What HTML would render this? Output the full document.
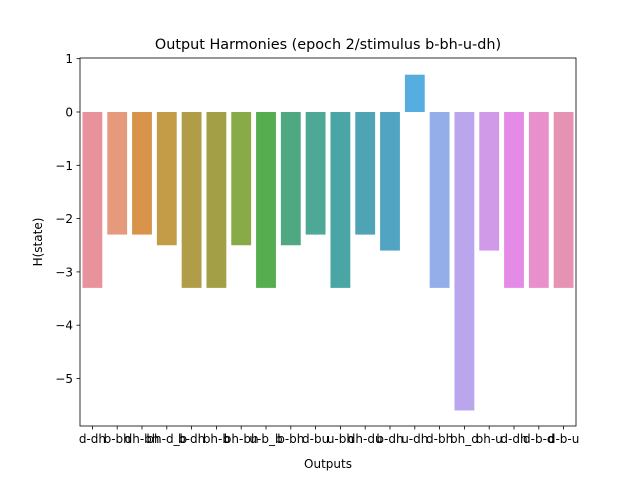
<!DOCTYPE html>
<html><head><meta charset="utf-8"><style>
body{margin:0;background:#fff;}
svg text{font-family:"DejaVu Sans","Liberation Sans",sans-serif;}
</style></head><body>
<svg id="chart" width="640" height="480" viewBox="0 0 640 480">
<rect width="640" height="480" fill="#fff"/>
<text x="328" y="49" text-anchor="middle" font-size="14.4">Output Harmonies (epoch 2/stimulus b-bh-u-dh)</text>
<g id="bars"></g>
<g id="yaxis"></g>
<g id="xaxis"></g>
<rect x="80" y="58" width="496" height="368" fill="none" stroke="#000" stroke-width="0.8"/>
<text x="328" y="468" text-anchor="middle" font-size="12">Outputs</text>
<text x="42" y="242" text-anchor="middle" font-size="12" transform="rotate(-90 42 242)">H(state)</text>
</svg>
<script>
const categories=["d-dh","b-bh","dh-bh","bh-d_b","b-dh","bh-b","bh-bh","u-b_b","b-bh","d-bu","u-bh","dh-du","b-dh","u-dh","d-bh","bh_d","bh-u","d-dh","d-b-d","d-b-u"];
const values=[-3.3,-2.3,-2.3,-2.5,-3.3,-3.3,-2.5,-3.3,-2.5,-2.3,-3.3,-2.3,-2.6,0.7,-3.3,-5.6,-2.6,-3.3,-3.3,-3.3];
const colors=["#e8939c","#e59a7e","#d8944b","#c49b47","#b19d47","#a39f46","#88ab47","#55ad4f","#50a883","#4ea896","#4aa5a5","#4ea3b5","#51a5c2","#56addf","#93aee8","#b9a6ec","#d19ae9","#e48ae7","#e890cc","#e693b3"];
const yTicks=[1,0,-1,-2,-3,-4,-5];
const ns="http://www.w3.org/2000/svg";
const x0=80,x1=576;
const y=v=>112-v*53.3;
const slot=(x1-x0)/categories.length;
const xc=i=>x0+slot*(i+0.5);
const bars=document.getElementById('bars'),xa=document.getElementById('xaxis'),ya=document.getElementById('yaxis');
function mk(t,a){const e=document.createElementNS(ns,t);for(const k in a)e.setAttribute(k,a[k]);return e;}
values.forEach((v,i)=>{
 const r=mk('rect',{x:xc(i)-slot*0.4,y:Math.min(y(v),y(0)),width:slot*0.8,height:Math.abs(y(v)-y(0)),fill:colors[i%colors.length]});
 
 
 bars.appendChild(r);
 const tk=mk('line',{x1:xc(i),x2:xc(i),y1:426,y2:429.5,stroke:'#000','stroke-width':0.8});
 
 
 xa.appendChild(tk);
 const t=mk('text',{x:xc(i),y:443,'text-anchor':'middle','font-size':12});
 t.textContent=categories[i];
 
 
 xa.appendChild(t);
});
yTicks.forEach(v=>{
 const tk=mk('line',{x1:76.5,x2:80,y1:y(v),y2:y(v),stroke:'#000','stroke-width':0.8});
 
 
 ya.appendChild(tk);
 const t=mk('text',{x:73,y:y(v)+4.5,'text-anchor':'end','font-size':12});
 t.textContent=v<0?'\u2212'+Math.abs(v):String(v);
 
 
 ya.appendChild(t);
});
</script>
</body></html>
